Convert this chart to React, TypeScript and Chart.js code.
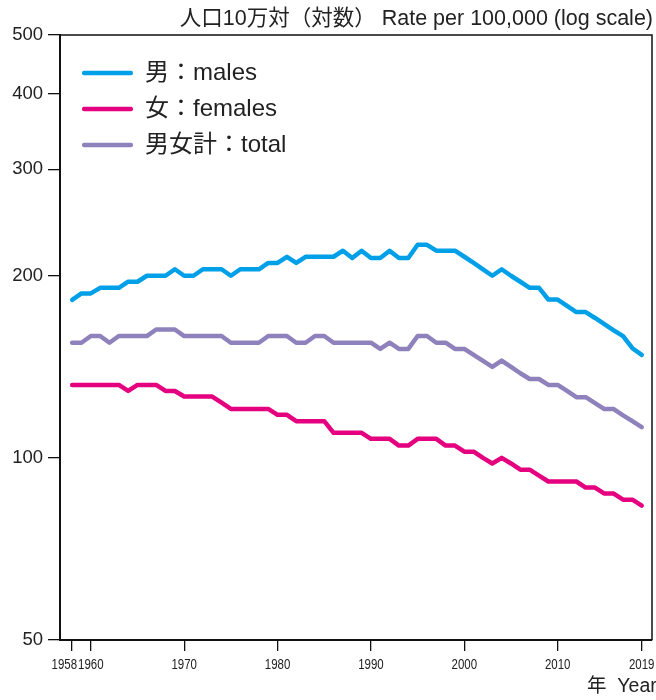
import { useEffect, useRef } from "react";
import { Chart, registerables } from "chart.js";

Chart.register(...registerables);

const years = [
  1958, 1959, 1960, 1961, 1962, 1963, 1964, 1965, 1966, 1967,
  1968, 1969, 1970, 1971, 1972, 1973, 1974, 1975, 1976, 1977,
  1978, 1979, 1980, 1981, 1982, 1983, 1984, 1985, 1986, 1987,
  1988, 1989, 1990, 1991, 1992, 1993, 1994, 1995, 1996, 1997,
  1998, 1999, 2000, 2001, 2002, 2003, 2004, 2005, 2006, 2007,
  2008, 2009, 2010, 2011, 2012, 2013, 2014, 2015, 2016, 2017,
  2018, 2019,
];

const males = [
  182.5, 187, 187, 191, 191, 191, 195.5, 195.5, 200, 200,
  200, 205, 200, 200, 205, 205, 205, 200, 205, 205,
  205, 210, 210, 215, 210, 215, 215, 215, 215, 220,
  214, 220, 214, 214, 220, 214, 214, 225, 225, 220,
  220, 220, 215, 210, 205, 200, 205, 200, 195.5, 191,
  191, 182.7, 182.7, 178.4, 174.2, 174.2, 170.3, 166.3, 162.5, 158.9,
  151.8, 148,
];

const females = [
  132, 132, 132, 132, 132, 132, 129, 132, 132, 132,
  129, 129, 126.3, 126.3, 126.3, 126.3, 123.4, 120.5, 120.5, 120.5,
  120.5, 120.5, 117.8, 117.8, 115, 115, 115, 115, 110, 110,
  110, 110, 107.5, 107.5, 107.5, 104.8, 104.8, 107.5, 107.5, 107.5,
  104.8, 104.8, 102.4, 102.4, 100, 97.9, 100, 97.9, 95.6, 95.6,
  93.5, 91.4, 91.4, 91.4, 91.4, 89.3, 89.3, 87.3, 87.3, 85.3,
  85.3, 83.4,
];

const total = [
  155, 155, 159, 159, 155, 159, 159, 159, 159, 163,
  163, 163, 159, 159, 159, 159, 159, 155, 155, 155,
  155, 159, 159, 159, 155, 155, 159, 159, 155, 155,
  155, 155, 155, 151.4, 155, 151.4, 151.4, 159, 159, 155,
  155, 151.4, 151.4, 148, 144.7, 141.4, 144.8, 141.4, 138, 135,
  135, 132, 132, 129, 126, 126, 123.2, 120.4, 120.4, 117.6,
  115, 112.4,
];

const seriesLabels = ["男：males", "女：females", "男女計：total"];
const seriesColors = ["#00a0e9", "#e4007f", "#8f82bc"];
const yTickValues = [50, 100, 200, 300, 400, 500];
const xTickValues = [1958, 1960, 1970, 1980, 1990, 2000, 2010, 2019];
const yAxisTitle = "人口10万対（対数） Rate per 100,000 (log scale)";
const xAxisTitle = "年  Year";

const FONT = "'Liberation Sans', Arial, Helvetica, 'Noto Sans CJK JP', sans-serif";
const INK = "#222";

const framePlugin = {
  id: "frame",
  afterLayout(chart: any) {
    const lg = chart.legend;
    const ca = chart.chartArea;
    if (lg && ca) {
      lg.left = ca.left + 10;
      lg.top = ca.top + 14;
    }
  },
  afterDraw(chart: any) {
    const { ctx, chartArea } = chart;
    ctx.save();
    // top and right frame
    ctx.strokeStyle = "#111";
    ctx.lineWidth = 1.5;
    ctx.beginPath();
    ctx.moveTo(chartArea.left, chartArea.top);
    ctx.lineTo(chartArea.right, chartArea.top);
    ctx.lineTo(chartArea.right, chartArea.bottom);
    ctx.stroke();

    // x tick labels (condensed)
    const xs = chart.scales.x;
    const squeeze = 0.74;
    ctx.font = `15.5px ${FONT}`;
    ctx.fillStyle = INK;
    ctx.textBaseline = "middle";
    ctx.textAlign = "center";
    const items = xTickValues.map((v) => {
      const label = String(v);
      const w = ctx.measureText(label).width * squeeze;
      return { label, w, cx: xs.getPixelForValue(v) };
    });
    for (let i = items.length - 2; i >= 0; i--) {
      const a = items[i];
      const b = items[i + 1];
      const aRight = a.cx + a.w / 2;
      const bLeft = b.cx - b.w / 2;
      if (aRight > bLeft - 1) a.cx -= aRight - (bLeft - 1);
    }
    items.forEach((it) => {
      ctx.save();
      ctx.translate(it.cx, xs.top + 25);
      ctx.scale(squeeze, 1);
      ctx.fillText(it.label, 0, 0);
      ctx.restore();
    });

    // y axis title (top right)
    ctx.font = `21.5px ${FONT}`;
    ctx.textAlign = "right";
    ctx.textBaseline = "middle";
    ctx.fillText(yAxisTitle, chartArea.right + 1, chartArea.top - 16);

    // x axis title (bottom right)
    ctx.font = `19.5px ${FONT}`;
    ctx.textAlign = "left";
    ctx.fillText(xAxisTitle, chartArea.right - 65, chart.height - 13);
    ctx.restore();
  },
};

export default function App() {
  const canvasRef = useRef<HTMLCanvasElement | null>(null);

  useEffect(() => {
    const canvas = canvasRef.current;
    if (!canvas) return;
    const seriesValues = [males, females, total];
    const chart = new Chart(canvas, {
      type: "line",
      data: {
        datasets: seriesValues.map((vals, i) => ({
          label: seriesLabels[i],
          data: years.map((yr, j) => ({ x: yr, y: vals[j] })),
          borderColor: seriesColors[i],
          backgroundColor: seriesColors[i],
          borderWidth: 4.5,
          pointRadius: 0,
          pointHoverRadius: 0,
          tension: 0,
          fill: false,
          borderJoinStyle: "round",
          borderCapStyle: "round",
        })),
      },
      options: {
        responsive: false,
        animation: false,
        devicePixelRatio: 1,
        layout: { padding: { left: 0, top: 35, right: 4, bottom: 0 } },
        scales: {
          x: {
            type: "linear",
            min: 1956.7,
            max: 2020.1,
            afterBuildTicks: (s: any) => {
              s.ticks = xTickValues.map((v) => ({ value: v }));
            },
            afterFit: (s: any) => {
              s.height = 60;
            },
            ticks: { display: false },
            grid: {
              drawOnChartArea: false,
              drawTicks: true,
              tickLength: 11,
              color: "#111",
              lineWidth: 1.3,
            },
            border: { color: "#111", width: 2 },
          },
          y: {
            type: "logarithmic",
            min: 50,
            max: 500,
            afterBuildTicks: (s: any) => {
              s.ticks = yTickValues.map((v) => ({ value: v }));
            },
            afterFit: (s: any) => {
              s.width = 60;
            },
            ticks: {
              padding: 5,
              color: INK,
              font: { family: FONT, size: 18.5 },
              callback: (v: any) => String(v),
            },
            grid: {
              drawOnChartArea: false,
              drawTicks: true,
              tickLength: 12,
              color: "#111",
              lineWidth: 1.3,
            },
            border: { color: "#111", width: 2 },
          },
        },
        plugins: {
          title: { display: false },
          tooltip: { enabled: false },
          legend: {
            position: "chartArea",
            align: "start",
            labels: {
              boxWidth: 51,
              boxHeight: 4.5,
              padding: 12,
              color: INK,
              font: { family: FONT, size: 24 },
              generateLabels: (c: any) =>
                c.data.datasets.map((ds: any, i: number) => ({
                  text: ds.label,
                  fillStyle: ds.borderColor,
                  strokeStyle: ds.borderColor,
                  lineWidth: 0,
                  borderRadius: 2,
                  hidden: false,
                  datasetIndex: i,
                  fontColor: INK,
                })),
            },
          },
        },
      },
      plugins: [framePlugin],
    } as any);
    return () => chart.destroy();
  }, []);

  return (
    <div style={{ position: "absolute", left: 0, top: 0, width: 656, height: 700, background: "#fff" }}>
      <canvas ref={canvasRef} width={656} height={700} style={{ display: "block" }} />
    </div>
  );
}
